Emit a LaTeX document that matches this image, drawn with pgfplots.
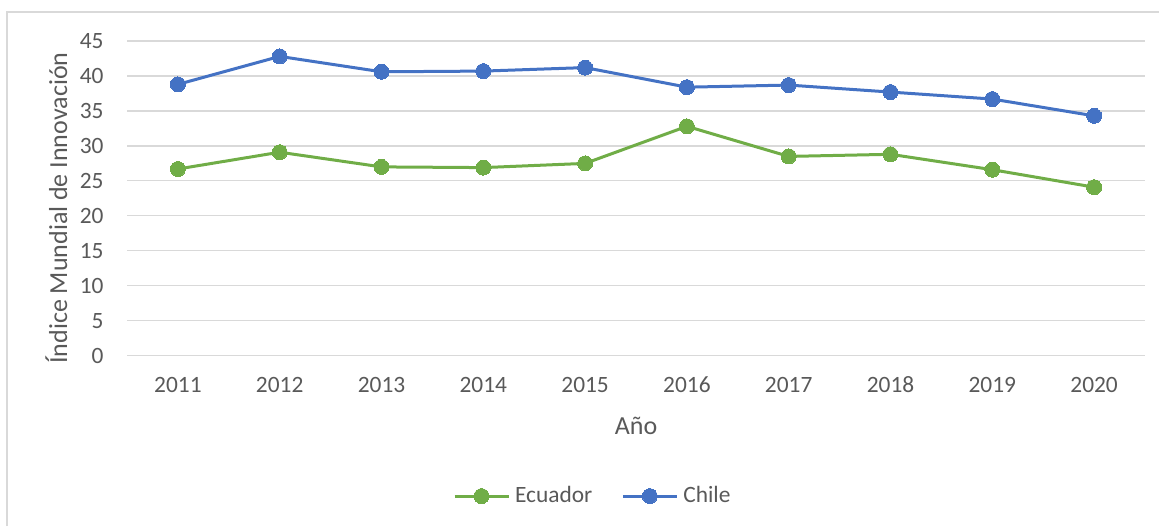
\documentclass[border=0pt]{standalone}
\usepackage{fontspec}
\setmainfont{Carlito}
\usepackage{pgfplots}
\usepackage{pgfplotstable}
\pgfplotsset{compat=1.18}
\definecolor{cblue}{HTML}{4472C4}
\definecolor{cgreen}{HTML}{70AD47}
\definecolor{cgrid}{HTML}{D9D9D9}
\definecolor{ctext}{HTML}{595959}
\pgfplotstableread{
x year val
0 2011 26.7
1 2012 29.1
2 2013 27.0
3 2014 26.9
4 2015 27.5
5 2016 32.8
6 2017 28.5
7 2018 28.8
8 2019 26.6
9 2020 24.1
}\ecuador
\pgfplotstableread{
x year val
0 2011 38.8
1 2012 42.8
2 2013 40.6
3 2014 40.7
4 2015 41.2
5 2016 38.4
6 2017 38.7
7 2018 37.7
8 2019 36.7
9 2020 34.3
}\chile
\begin{document}
\begin{tikzpicture}
\path[use as bounding box] (0,0) rectangle (579.5pt,-263pt);
\draw[cgrid, line width=0.6pt] (3.5pt,-263pt) -- (3.5pt,-6pt) -- (579.5pt,-6pt);
\begin{axis}[
  at={(63.5pt,-177.85pt)}, anchor=south west,
  scale only axis, width=509pt, height=157.35pt,
  xmin=-0.5, xmax=9.5, ymin=0, ymax=45,
  xtick={0,...,9},
  xticklabels={2011,2012,2013,2014,2015,2016,2017,2018,2019,2020},
  ytick={0,5,...,45},
  ymajorgrids,
  major grid style={cgrid, line width=0.6pt},
  axis line style={draw=none},
  tick style={draw=none},
  /pgf/number format/assume math mode=true,
  ticklabel style={font=\fontsize{11.7}{13}\selectfont, text=ctext},
  yticklabel style={inner xsep=0pt, xshift=-11.5pt},
  xticklabel style={anchor=base, yshift=-18.6pt},
  xlabel={Año},
  ylabel={Índice Mundial de Innovación},
  every axis x label/.style={at={(axis description cs:0.5,-0.249)}, anchor=base, font=\fontsize{13}{15}\selectfont, text=ctext},
  every axis y label/.style={at={(axis description cs:-0.0589,0.469)}, rotate=90, anchor=base, font=\fontsize{13}{15}\selectfont, text=ctext},
  clip=false,
  legend columns=2,
  legend style={at={(axis description cs:0.459,-0.446)}, anchor=center, draw=none, fill=none,
    font=\fontsize{11.7}{13}\selectfont, text=ctext,
    /tikz/every even column/.append style={column sep=12pt},
    nodes={inner xsep=2.5pt}},
  legend image code/.code={\draw[mark repeat=2,mark phase=2,#1] plot coordinates {(0pt,0pt) (13.5pt,0pt) (27pt,0pt)};},
]
\addplot[cgreen, line width=1.5pt, mark=*, mark size=3.75pt, mark options={fill=cgreen, draw=cgreen, line width=0pt}] table[x=x, y=val] {\ecuador};
\addlegendentry{Ecuador}
\addplot[cblue, line width=1.5pt, mark=*, mark size=3.75pt, mark options={fill=cblue, draw=cblue, line width=0pt}] table[x=x, y=val] {\chile};
\addlegendentry{Chile}
\end{axis}
\end{tikzpicture}
\end{document}
